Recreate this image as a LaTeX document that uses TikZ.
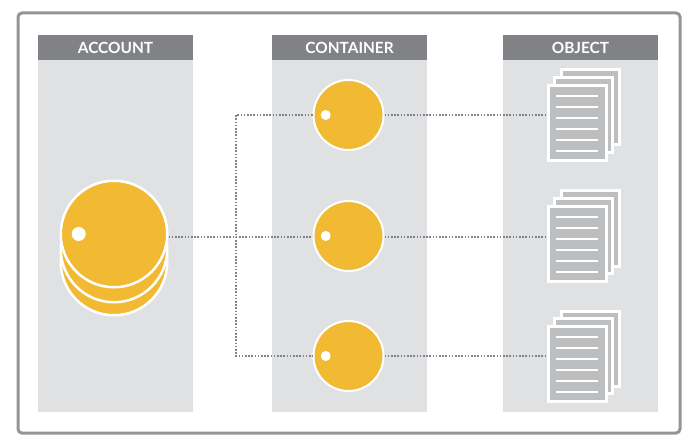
\documentclass[tikz,border=0pt]{standalone}
\usepackage{fontspec}
\setmainfont{Lato}
\definecolor{headgray}{HTML}{808285}
\definecolor{colgray}{HTML}{E0E1E3}
\definecolor{framegray}{HTML}{939598}
\definecolor{disk}{HTML}{F2B932}
\definecolor{sheet}{HTML}{BCBEC0}
\tikzset{
  column/.style={fill=colgray,minimum width=155pt,minimum height=377pt,inner sep=0pt},
  head/.style={fill=headgray,text=white,font=\bfseries\fontsize{15.4}{15.4}\selectfont,minimum width=155pt,minimum height=25pt,inner sep=0pt},
  bigdisk/.style={circle,fill=disk,draw=white,line width=2.5pt,minimum size=106.5pt,inner sep=0pt},
  smalldisk/.style={circle,fill=disk,draw=white,line width=2pt,minimum size=70pt,inner sep=0pt},
  dot/.style={circle,fill=white,inner sep=0pt},
  page/.style={fill=sheet,draw=white,line width=3pt,minimum width=58pt,minimum height=75pt,inner sep=0pt},
  link/.style={headgray,line width=2pt,dash pattern=on 1.6pt off 1.6pt}
}
\begin{document}
\begin{tikzpicture}[x=1pt,y=-1pt]
  \useasboundingbox (0,0) rectangle (698,446);
  \draw[framegray,line width=3pt,rounded corners=4pt] (18,13) rectangle (680,433);
  % columns
  \foreach \x/\n/\t in {115.5/acct/ACCOUNT,349.5/ctr/CONTAINER,580.5/obj/OBJECT} {
    \node[column] (\n col) at (\x,223.5) {};
    \node[head] (\n head) at (\x,47.5) {\t};
  }
  % account stack
  \node[bigdisk] (acct3) at (114,262) {};
  \node[bigdisk] (acct2) at (114,249) {};
  \node[bigdisk] (acct1) at (114,234) {};
  \node[dot,minimum size=14pt] (acctdot) at (78.7,234) {};
  % containers and objects
  \foreach \y/\n in {0/1,121/2,241/3} {
    \node[smalldisk] (ctr\n) at (348.5,115+\y) {};
    \node[dot,minimum size=10pt] (ctrdot\n) at (325.7,115+\y) {};
    \node[page] (back\n) at (590.5,107.5+\y) {};
    \node[page] (mid\n) at (583.5,115+\y) {};
    \node[page] (doc\n) at (577,123+\y) {};
    \foreach \l in {0,...,5}
      \draw[white,line width=2.5pt] (556,96+11*\l+\y) -- (598,96+11*\l+\y);
  }
  % links
  \coordinate (hub) at (236,237);
  \draw[link] (acct1.east |- hub) -- (hub -| ctr2.west);
  \draw[link] (ctr1.west) -| (hub) |- (ctr3.west);
  \foreach \n in {1,3}
    \draw[link] (ctr\n.east) -- (doc\n.west |- ctr\n.east);
  \draw[link] (hub -| ctr2.east) -- (hub -| doc2.west);
\end{tikzpicture}
\end{document}
